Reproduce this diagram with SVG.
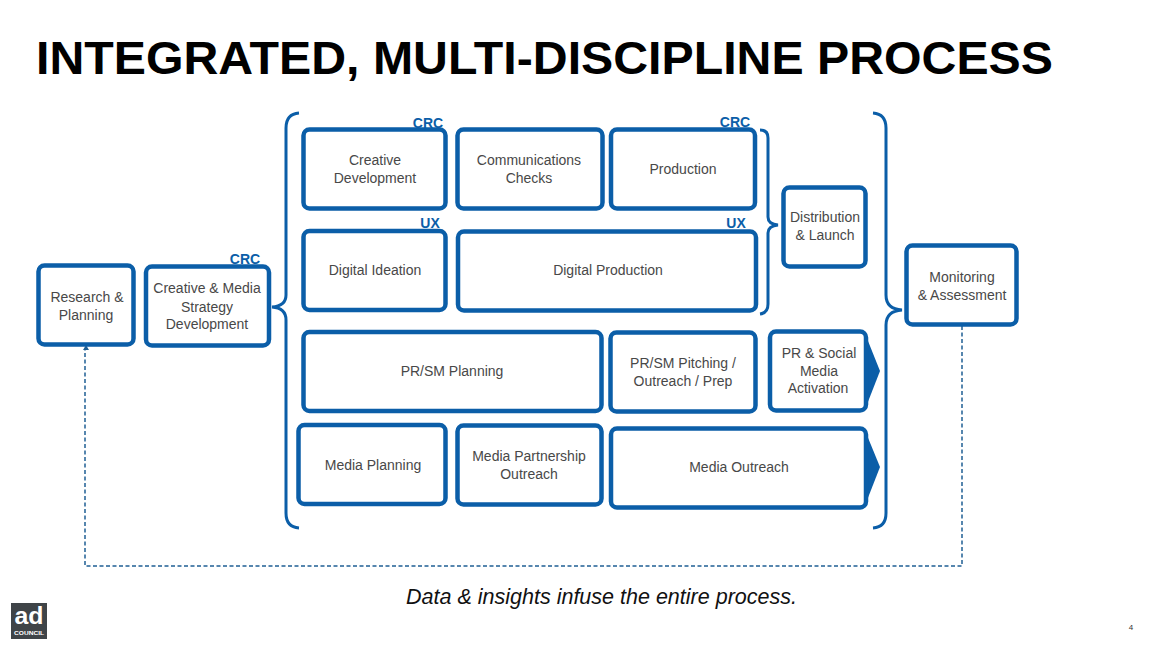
<svg xmlns="http://www.w3.org/2000/svg" width="1152" height="648" viewBox="0 0 1152 648">
<style>
text{font-family:"Liberation Sans",Arial,sans-serif}
.b{fill:#fff;stroke:#0b5ea8;stroke-width:4.500}
.t{font-size:14px;fill:#484848;text-anchor:middle}
.l{font-size:14px;font-weight:bold;fill:#0b5ea8;text-anchor:middle}
.br{fill:none;stroke:#0b5ea8;stroke-width:3}
.d{fill:none;stroke:#1f5f94;stroke-width:1.500;stroke-dasharray:4 2.500}
.a{fill:#0b5ea8}
</style>
<rect width="1152" height="648" fill="#fff"/>
<text x="36" y="74" font-size="47" font-weight="bold" fill="#000" textLength="1017" lengthAdjust="spacingAndGlyphs">INTEGRATED, MULTI-DISCIPLINE PROCESS</text>
<g id="connectors">
<path class="d" d="M962 326V566H85V350"/>
<path d="M83 350L86 345L89 350Z" fill="#1f5f94"/>
<path class="br" d="M299 113Q286 114 286 128V295Q286 306 272 307Q286 308 286 320V513Q286 527 299 528"/>
<path class="br" d="M873 113Q886 114 886 128V295Q886 309 902 310Q886 311 886 325V513Q886 527 873 528"/>
<path class="br" d="M760 130Q768 130 768 138V217Q768 224 778 225Q768 226 768 233V304Q768 313 760 314"/>
</g>
<g id="labels">
<text class="l" x="428" y="128">CRC</text>
<text class="l" x="735" y="127">CRC</text>
<text class="l" x="430" y="228">UX</text>
<text class="l" x="736" y="228">UX</text>
<text class="l" x="245" y="264">CRC</text>
</g>
<g id="research"><rect class="b" x="38.500" y="265.500" width="95" height="79" rx="6"/><text class="t" x="87" y="302">Research &amp;</text><text class="t" x="86" y="320">Planning</text></g>
<g id="strategy"><rect class="b" x="146" y="266.500" width="123" height="79" rx="6"/><text class="t" x="207" y="293">Creative &amp; Media</text><text class="t" x="207" y="312">Strategy</text><text class="t" x="207" y="329">Development</text></g>
<g id="creative"><rect class="b" x="303.500" y="129.500" width="142" height="79" rx="6"/><text class="t" x="375" y="165">Creative</text><text class="t" x="375" y="183">Development</text></g>
<g id="comms"><rect class="b" x="457.500" y="129.500" width="145" height="79" rx="6"/><text class="t" x="529" y="165">Communications</text><text class="t" x="529" y="183">Checks</text></g>
<g id="production"><rect class="b" x="611" y="129.500" width="144" height="79" rx="6"/><text class="t" x="683" y="174">Production</text></g>
<g id="ideation"><rect class="b" x="303.500" y="231" width="142" height="79" rx="6"/><text class="t" x="375" y="275">Digital Ideation</text></g>
<g id="digprod"><rect class="b" x="458" y="231.500" width="298" height="79" rx="6"/><text class="t" x="608" y="275">Digital Production</text></g>
<g id="distribution"><rect class="b" x="783.500" y="187.500" width="82" height="79" rx="6"/><text class="t" x="825" y="222">Distribution</text><text class="t" x="825" y="240">&amp; Launch</text></g>
<g id="monitoring"><rect class="b" x="906.500" y="245.500" width="110" height="79" rx="6"/><text class="t" x="962" y="282">Monitoring</text><text class="t" x="962" y="300">&amp; Assessment</text></g>
<g id="prplan"><rect class="b" x="303.500" y="332" width="298" height="79" rx="6"/><text class="t" x="452" y="376">PR/SM Planning</text></g>
<g id="prpitch"><rect class="b" x="610.500" y="332.500" width="145" height="79" rx="6"/><text class="t" x="683" y="368">PR/SM Pitching /</text><text class="t" x="683" y="386">Outreach / Prep</text></g>
<g id="practivation"><path class="a" d="M864 331L880 371L864 412Z"/><rect class="b" x="770" y="331.500" width="96" height="79" rx="6"/><text class="t" x="819" y="358">PR &amp; Social</text><text class="t" x="819" y="376">Media</text><text class="t" x="818" y="393">Activation</text></g>
<g id="mediaplan"><rect class="b" x="298.500" y="425" width="147" height="79" rx="6"/><text class="t" x="373" y="470">Media Planning</text></g>
<g id="mediapart"><rect class="b" x="457.500" y="425.500" width="144" height="79" rx="6"/><text class="t" x="529" y="461">Media Partnership</text><text class="t" x="529" y="479">Outreach</text></g>
<g id="mediaout"><path class="a" d="M864 428L880 467L864 508Z"/><rect class="b" x="611" y="428.500" width="255" height="79" rx="6"/><text class="t" x="739" y="472">Media Outreach</text></g>
<text x="406" y="604" font-size="21.500" font-style="italic" fill="#111" textLength="391" lengthAdjust="spacingAndGlyphs">Data &amp; insights infuse the entire process.</text>
<g id="logo"><rect x="11" y="603" width="36" height="36" fill="#3f4448"/><text x="29" y="624" font-size="23" font-weight="bold" fill="#fff" text-anchor="middle" textLength="29" lengthAdjust="spacingAndGlyphs">ad</text><text x="29" y="635" font-size="5" font-weight="bold" fill="#fff" text-anchor="middle" textLength="30" lengthAdjust="spacingAndGlyphs">COUNCIL</text></g>
<text x="1131" y="630" font-size="8" fill="#333" text-anchor="middle">4</text>
</svg>
